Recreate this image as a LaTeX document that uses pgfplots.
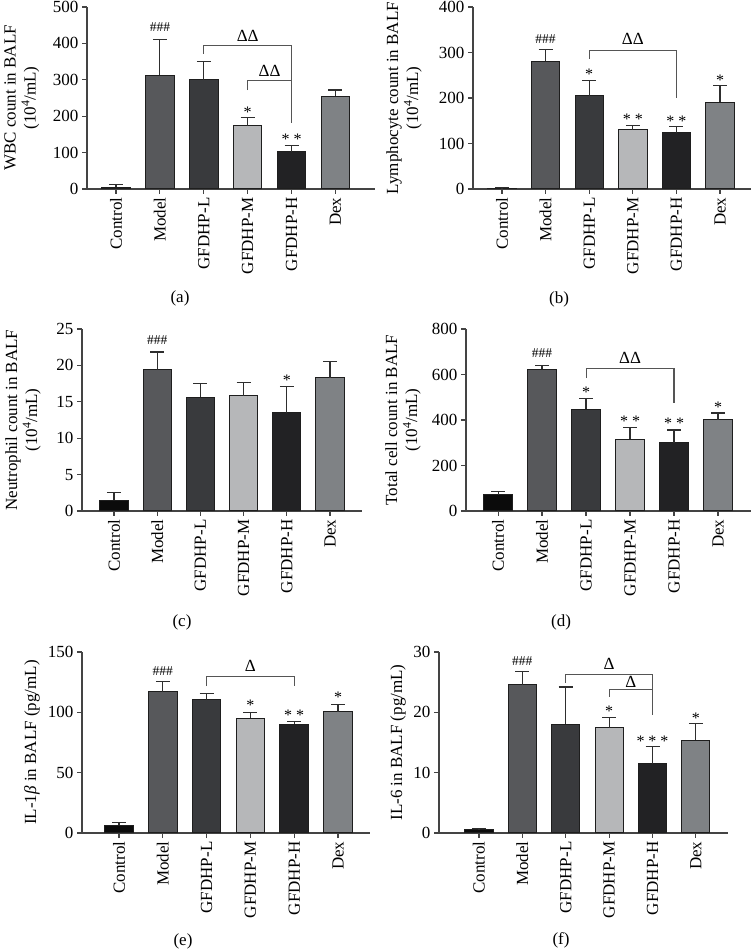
\documentclass[border=0pt]{standalone}
\usepackage{fontspec}
\setmainfont{Liberation Serif}
\usepackage{pgfplots}
\pgfplotsset{compat=1.18}
\definecolor{cC}{HTML}{0B0B0B}
\definecolor{cMo}{HTML}{57585B}
\definecolor{cL}{HTML}{393A3D}
\definecolor{cM}{HTML}{B6B7B9}
\definecolor{cH}{HTML}{222224}
\definecolor{cD}{HTML}{7F8285}
\definecolor{bord}{HTML}{1E1E1E}
\definecolor{errc}{HTML}{2E2E2E}
\definecolor{axc}{HTML}{444444}
\definecolor{brc}{HTML}{555555}
\newcommand\fs{\fontsize{17}{20}\selectfont}
\newcommand\st[3]{\node[font=\fontsize{16}{18}\selectfont, anchor=base, yshift=-8pt] at (axis cs:#1,#2) {#3};}
\newcommand\hs[2]{\node[font=\fontsize{13.5}{15}\selectfont, anchor=base, yshift=-4.6pt] at (axis cs:#1,#2) {\#\#\#};}
\newcommand\dl[3]{\node[font=\fs, anchor=base, yshift=-5.7pt] at (axis cs:#1,#2) {#3};}
\tikzset{brk/.style={line width=1.1pt, color=brc}}
\pgfplotsset{
  panel/.style={
    scale only axis, anchor=south west, clip=false,
    axis x line*=bottom, axis y line*=left,
    axis line style={line width=1.3pt, color=axc, -},
    tick style={line width=1.2pt, color=axc},
    tick align=outside, major tick length=5pt,
    xtick={0,...,5},
    xticklabels={Control,Model,GFDHP-L,GFDHP-M,GFDHP-H,Dex},
    x tick label style={rotate=90, anchor=east, font=\fs},
    y tick label style={font=\fs},
    /pgf/number format/assume math mode=true,
    ymin=0,
    ylabel style={font=\fs, align=center, anchor=center},
  },
  bx/.style={ybar, bar width=0.65, bar shift=0pt, draw=bord, line width=1pt, fill=#1,
    /pgfplots/error bars/y dir=plus, /pgfplots/error bars/y explicit,
    /pgfplots/error bars/error bar style={line width=1.2pt, color=errc},
    /pgfplots/error bars/error mark options={rotate=90, mark size=7pt, line width=1.2pt, color=errc}},
}
\begin{document}
\begin{tikzpicture}[x=1pt,y=1pt]
\useasboundingbox (0,0) rectangle (752,950);
% (a)
\begin{axis}[panel, at={(87pt,761pt)}, width=288pt, height=182pt, xmin=-0.66, xmax=5.9,
  ymax=500, ytick={0,100,...,500},
  ylabel={WBC count in BALF\\(10\textsuperscript{4}/mL)},
  ylabel style={at={(axis description cs:-0.226,0.5)}}]
\addplot[bx=cC] coordinates {(0,5) +- (0,7)};
\addplot[bx=cMo] coordinates {(1,313) +- (0,97)};
\addplot[bx=cL] coordinates {(2,300) +- (0,51)};
\addplot[bx=cM] coordinates {(3,174) +- (0,22)};
\addplot[bx=cH] coordinates {(4,102) +- (0,18)};
\addplot[bx=cD] coordinates {(5,255) +- (0,17)};
\draw[brk] (axis cs:2,372) |- (axis cs:4,393) -- (axis cs:4,180);
\draw[brk] (axis cs:3,271.5) |- (axis cs:4,299);
\hs{1}{445}
\dl{3}{422}{ΔΔ}
\dl{3.5}{326}{ΔΔ}
\st{3}{218.5}{*}
\st{4}{143.5}{* *}
\end{axis}
% (b)
\begin{axis}[panel, at={(473pt,761pt)}, width=278pt, height=182pt, xmin=-0.665, xmax=5.71,
  ymax=400, ytick={0,100,...,400},
  ylabel={Lymphocyte count in BALF\\(10\textsuperscript{4}/mL)},
  ylabel style={at={(axis description cs:-0.248,0.5)}}]
\addplot[bx=cC] coordinates {(0,2) +- (0,1)};
\addplot[bx=cMo] coordinates {(1,281) +- (0,25)};
\addplot[bx=cL] coordinates {(2,205) +- (0,33)};
\addplot[bx=cM] coordinates {(3,130) +- (0,10)};
\addplot[bx=cH] coordinates {(4,124) +- (0,13)};
\addplot[bx=cD] coordinates {(5,191) +- (0,36)};
\draw[brk] (axis cs:2,286.6) |- (axis cs:4,305) -- (axis cs:4,199);
\hs{1}{330.5}
\dl{3}{330.5}{ΔΔ}
\st{2}{257.4}{*}
\st{3}{158.7}{* *}
\st{4}{155}{* *}
\st{5}{245}{*}
\end{axis}
% (c)
\begin{axis}[panel, at={(82pt,439pt)}, width=280pt, height=182pt, xmin=-0.74, xmax=5.74,
  ymax=25, ytick={0,5,...,25},
  ylabel={Neutrophil count in BALF\\(10\textsuperscript{4}/mL)},
  ylabel style={at={(axis description cs:-0.211,0.5)}}]
\addplot[bx=cC] coordinates {(0,1.5) +- (0,1.0)};
\addplot[bx=cMo] coordinates {(1,19.4) +- (0,2.45)};
\addplot[bx=cL] coordinates {(2,15.6) +- (0,1.9)};
\addplot[bx=cM] coordinates {(3,15.85) +- (0,1.85)};
\addplot[bx=cH] coordinates {(4,13.5) +- (0,3.65)};
\addplot[bx=cD] coordinates {(5,18.3) +- (0,2.2)};
\hs{1}{23.5}
\st{4}{18.4}{*}
\end{axis}
% (d)
\begin{axis}[panel, at={(466pt,439pt)}, width=285pt, height=182pt, xmin=-0.73, xmax=5.75,
  ymax=800, ytick={0,200,...,800},
  ylabel={Total cell count in BALF\\(10\textsuperscript{4}/mL)},
  ylabel style={at={(axis description cs:-0.221,0.5)}}]
\addplot[bx=cC] coordinates {(0,72) +- (0,12)};
\addplot[bx=cMo] coordinates {(1,623) +- (0,17)};
\addplot[bx=cL] coordinates {(2,447) +- (0,47)};
\addplot[bx=cM] coordinates {(3,315) +- (0,53)};
\addplot[bx=cH] coordinates {(4,300) +- (0,56)};
\addplot[bx=cD] coordinates {(5,400) +- (0,31)};
\draw[brk] (axis cs:2,584) |- (axis cs:4,628) -- (axis cs:4,473.5);
\hs{1}{694}
\dl{3}{675}{ΔΔ}
\st{2}{532}{*}
\st{3}{407}{* *}
\st{4}{395.6}{* *}
\st{5}{467.6}{*}
\end{axis}
% (e)
\begin{axis}[panel, at={(82pt,117pt)}, width=288pt, height=181pt, xmin=-0.845, xmax=5.73,
  ymax=150, ytick={0,50,100,150},
  ylabel={IL-1\textit{β} in BALF (pg/mL)},
  ylabel style={at={(axis description cs:-0.174,0.5)}}]
\addplot[bx=cC] coordinates {(0,6.3) +- (0,2.5)};
\addplot[bx=cMo] coordinates {(1,117) +- (0,8.8)};
\addplot[bx=cL] coordinates {(2,110.6) +- (0,5.2)};
\addplot[bx=cM] coordinates {(3,95) +- (0,4.7)};
\addplot[bx=cH] coordinates {(4,90) +- (0,2.5)};
\addplot[bx=cD] coordinates {(5,100.3) +- (0,6.3)};
\draw[brk] (axis cs:2,121.7) |- (axis cs:4,129.4) -- (axis cs:4,121.7);
\hs{1}{134.3}
\dl{3}{138.2}{Δ}
\st{3}{107.9}{*}
\st{4}{99.6}{* *}
\st{5}{115}{*}
\end{axis}
% (f)
\begin{axis}[panel, at={(439pt,117pt)}, width=289pt, height=181pt, xmin=-0.92, xmax=5.74,
  ymax=30, ytick={0,10,20,30},
  ylabel={IL-6 in BALF (pg/mL)},
  ylabel style={at={(axis description cs:-0.142,0.5)}}]
\addplot[bx=cC] coordinates {(0,0.55) +- (0,0.22)};
\addplot[bx=cMo] coordinates {(1,24.6) +- (0,2.2)};
\addplot[bx=cL] coordinates {(2,18.0) +- (0,6.2)};
\addplot[bx=cM] coordinates {(3,17.45) +- (0,1.7)};
\addplot[bx=cH] coordinates {(4,11.45) +- (0,2.85)};
\addplot[bx=cD] coordinates {(5,15.4) +- (0,2.7)};
\draw[brk] (axis cs:2,24.9) |- (axis cs:4,26.3) -- (axis cs:4,19.5);
\draw[brk] (axis cs:3,22.6) |- (axis cs:4,23.8);
\hs{1}{28.5}
\dl{3}{28.1}{Δ}
\dl{3.5}{25.0}{Δ}
\st{3}{20.7}{*}
\st{4}{15.7}{* * *}
\st{5}{19.5}{*}
\end{axis}
\node[font=\fs] at (180,652) {(a)};
\node[font=\fs] at (559,651) {(b)};
\node[font=\fs] at (182,328) {(c)};
\node[font=\fs] at (561,328) {(d)};
\node[font=\fs] at (183,9) {(e)};
\node[font=\fs] at (561,10) {(f)};
\end{tikzpicture}
\end{document}
